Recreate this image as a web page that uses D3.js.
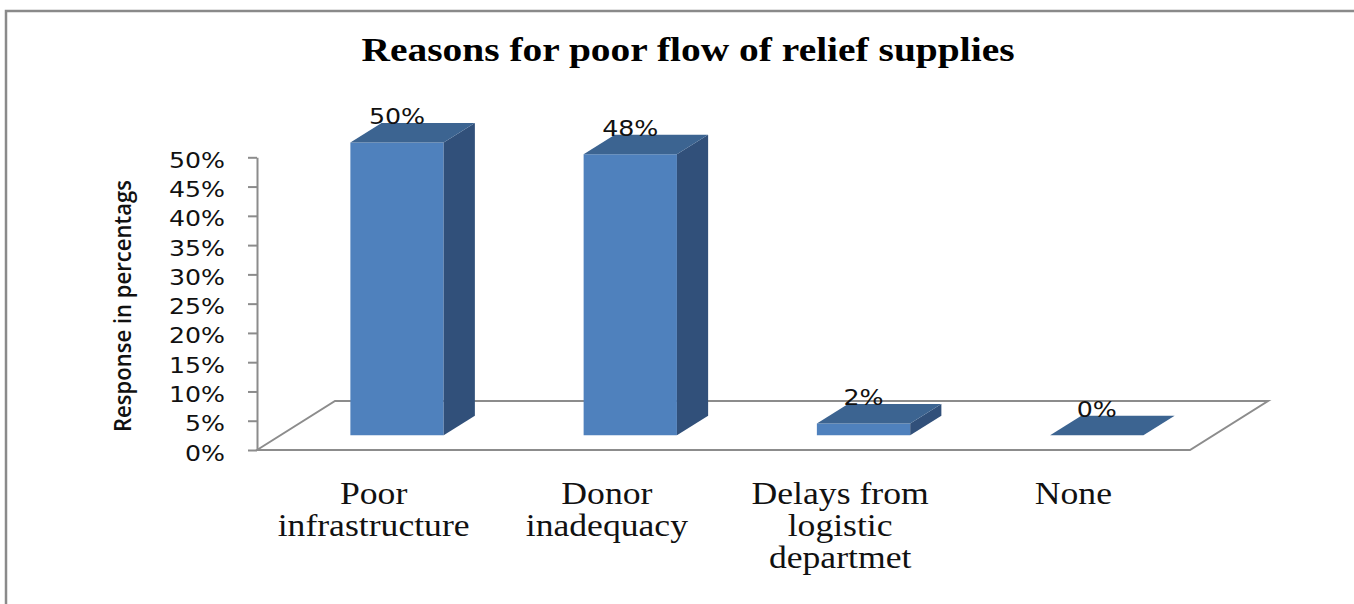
<!DOCTYPE html>
<html>
<head>
<meta charset="utf-8">
<script src="https://cdn.jsdelivr.net/npm/d3@7"></script>
<style>
  html, body { margin: 0; padding: 0; background: #fff; }
  svg { display: block; }
</style>
</head>
<body>
<svg id="chart" width="1354" height="604"></svg>
<script>
// ---- data ----
const categories = ["Poor infrastructure", "Donor inadequacy", "Delays from logistic departmet", "None"];
const categoryLines = [["Poor", "infrastructure"], ["Donor", "inadequacy"], ["Delays from", "logistic", "departmet"], ["None"]];
const values = [50, 48, 2, 0];
const valueLabels = ["50%", "48%", "2%", "0%"];
const tickValues = [0, 5, 10, 15, 20, 25, 30, 35, 40, 45, 50];
const title = "Reasons for poor flow of relief supplies";
const yTitle = "Response in percentags";

// ---- layout ----
const svg = d3.select("#chart");
const W = 1354, H = 604;
const frontLeft = 257, frontRight = 1190, frontY = 450, topY = 157.3;
const depth = { dx: 78, dy: -49 };        // floor depth vector
const barFront = 0.30, barBack = 0.70;    // fraction of depth occupied by bars
const barWidthFrac = 0.40;

const x = d3.scaleBand().domain(categories).range([frontLeft, frontRight]).padding(0);
const y = d3.scaleLinear().domain([0, 50]).range([frontY, topY]);

const colFront = "#4f81bd", colSide = "#31507a", colTop = "#3c6491";
const gridCol = "#8c8c8c";

// border
svg.append("path")
  .attr("d", `M6,${H} L6,11 L${W},11`)
  .attr("fill", "none").attr("stroke", "#8a8a8a").attr("stroke-width", 2.5);

// title
svg.append("text")
  .attr("x", 688).attr("y", 61)
  .attr("text-anchor", "middle")
  .attr("font-family", "'Liberation Serif', 'Times New Roman', serif")
  .attr("font-weight", "bold").attr("font-size", 34)
  .attr("textLength", 653).attr("lengthAdjust", "spacingAndGlyphs")
  .text(title);

// floor
const fx0 = frontLeft, fx1 = frontRight;
svg.append("path")
  .attr("d", `M${fx0},${frontY} L${fx0 + depth.dx},${frontY + depth.dy} L${fx1 + depth.dx},${frontY + depth.dy} L${fx1},${frontY} Z`)
  .attr("fill", "none").attr("stroke", gridCol).attr("stroke-width", 2);

// y axis
const yAxis = d3.axisLeft(y).tickValues(tickValues).tickFormat(d => d + "%").tickSize(9).tickSizeOuter(0);
const gy = svg.append("g").attr("transform", `translate(${frontLeft},0)`).call(yAxis);
gy.select(".domain").attr("stroke", gridCol).attr("stroke-width", 2);
gy.selectAll(".tick line").attr("stroke", gridCol).attr("stroke-width", 2);
gy.selectAll(".tick text")
  .attr("x", 0).attr("dy", null)
  .attr("font-family", "'DejaVu Sans', Verdana, sans-serif")
  .attr("font-size", 21).attr("fill", "#111")
  .attr("text-anchor", "end")
  .attr("transform", "translate(-32,10) scale(1.2,1)")
  .attr("y", 0);

// bars
const bars = svg.append("g");
categories.forEach((c, i) => {
  const v = values[i];
  const bw = x.bandwidth() * barWidthFrac;
  const cx = x(c) + x.bandwidth() / 2 + depth.dx * barFront;
  const base = frontY + depth.dy * barFront;
  const h = y(0) - y(v);
  const x0 = cx - bw / 2, x1 = cx + bw / 2;
  const yb = base, yt = base - h;
  const ddx = depth.dx * (barBack - barFront), ddy = depth.dy * (barBack - barFront);
  const g = bars.append("g");
  if (h > 0) {
    g.append("path").attr("d", `M${x0},${yb} L${x1},${yb} L${x1},${yt} L${x0},${yt} Z`).attr("fill", colFront);
    g.append("path").attr("d", `M${x1},${yb} L${x1 + ddx},${yb + ddy} L${x1 + ddx},${yt + ddy} L${x1},${yt} Z`).attr("fill", colSide);
  }
  g.append("path").attr("d", `M${x0},${yt} L${x1},${yt} L${x1 + ddx},${yt + ddy} L${x0 + ddx},${yt + ddy} Z`).attr("fill", colTop);
  // value label
  svg.append("text")
    .attr("transform", `translate(${cx},${yt + ddy + 1}) scale(1.15,1)`)
    .attr("text-anchor", "middle")
    .attr("font-family", "'DejaVu Sans', Verdana, sans-serif")
    .attr("font-size", 22).attr("fill", "#111")
    .text(valueLabels[i]);
});

// category labels
categories.forEach((c, i) => {
  const cx = x(c) + x.bandwidth() / 2;
  categoryLines[i].forEach((line, j) => {
    svg.append("text")
      .attr("transform", `translate(${cx},${504 + j * 32}) scale(1.15,1)`)
      .attr("text-anchor", "middle")
      .attr("font-family", "'Liberation Serif', 'Times New Roman', serif")
      .attr("font-size", 31).attr("fill", "#111")
      .text(line);
  });
});

// y title
svg.append("text")
  .attr("transform", "translate(131,306) rotate(-90)")
  .attr("text-anchor", "middle")
  .attr("font-family", "'Open Sans', sans-serif")
  .attr("font-weight", 600).attr("font-size", 23)
  .attr("textLength", 252).attr("lengthAdjust", "spacingAndGlyphs")
  .attr("fill", "#111")
  .text(yTitle);
</script>
</body>
</html>
